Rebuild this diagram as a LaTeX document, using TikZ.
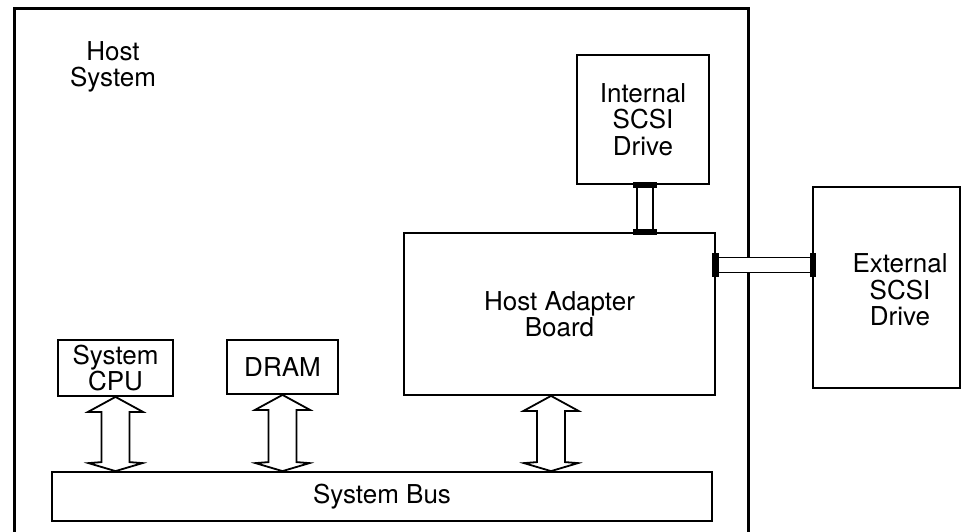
\documentclass[tikz,border=0pt]{standalone}
\usepackage{fontspec}
\setmainfont{TeX Gyre Heros}
\usetikzlibrary{calc}
\begin{document}
\begin{tikzpicture}[x=1pt,y=-1pt,
  box/.style={draw=black,line width=1.8pt,fill=white,inner sep=0pt,align=center,
    font=\fontsize{26}{26.5}\selectfont},
  txt/.style={inner sep=0pt,align=center,font=\fontsize{26}{26.5}\selectfont},
  fat/.style={draw=black,line width=1.8pt,fill=white,line join=miter},
  cable/.style={draw=black,line width=1.6pt,fill=white},
  plug/.style={fill=black,draw=none}]
\useasboundingbox (0,0) rectangle (971,531);
% host system outline
\draw[line width=3pt] (14,545) -- (14,8) -- (748,8) -- (748,545);
\node[txt] (hostlabel) at (113,67) {Host\\System};
% boxes
\node[box,minimum width=132pt,minimum height=129pt] (intdrive) at (643,119.5) {Internal\\SCSI\\Drive};
\node[box,minimum width=311pt,minimum height=162pt] (hab) at (559.5,314) {Host Adapter\\Board};
\node[box,minimum width=147pt,minimum height=201pt] (extdrive) at (886.5,287.5) {};
\node[txt] (exttext) at (900,290) {External\\SCSI\\Drive};
\node[box,minimum width=115pt,minimum height=56pt] (cpu) at (115.5,368) {System\\CPU};
\node[box,minimum width=111pt,minimum height=54pt] (dram) at (282.5,367) {DRAM};
\node[box,minimum width=660pt,minimum height=49pt] (bus) at (382,496.5) {System Bus};
% internal cable
\coordinate (ic1) at ($(intdrive.south)+(2,0)$);
\coordinate (ic2) at (ic1 |- hab.north);
\draw[cable] ($(ic1)+(-8,0)$) rectangle ($(ic2)+(8,0)$);
\fill[plug] ($(ic1)+(-12,-3)$) rectangle ($(ic1)+(12,3)$);
\fill[plug] ($(ic2)+(-12,-3)$) rectangle ($(ic2)+(12,3)$);
% external cable
\coordinate (ec1) at ($(hab.east)+(0,-49)$);
\coordinate (ec2) at (ec1 -| extdrive.west);
\draw[cable] ($(ec1)+(0,-7.5)$) rectangle ($(ec2)+(0,7.5)$);
\fill[plug] ($(ec1)+(-3.5,-12)$) rectangle ($(ec1)+(3.5,12)$);
\fill[plug] ($(ec2)+(-2.5,-12)$) rectangle ($(ec2)+(4,12)$);
% fat double arrows
\coordinate (a1t) at (cpu.south);
\coordinate (a1b) at (cpu.south |- bus.north);
\coordinate (a2t) at (dram.south);
\coordinate (a2b) at (dram.south |- bus.north);
\coordinate (a3t) at ($(hab.south)+(-8.5,0)$);
\coordinate (a3b) at (a3t |- bus.north);
\foreach \t/\b in {a1t/a1b,a2t/a2b,a3t/a3b}{
  \path[fat] let \p1=(\t), \p2=(\b) in
    (\x1,\y1) -- ({\x1+27.5pt},{\y1-15pt}) -- ({\x1+14pt},{\y1-15pt})
    -- ({\x1+14pt},{\y2+9pt}) -- ({\x1+27pt},{\y2+8pt}) -- (\x1,\y2)
    -- ({\x1-27pt},{\y2+8pt}) -- ({\x1-14pt},{\y2+9pt})
    -- ({\x1-14pt},{\y1-15pt}) -- ({\x1-27.5pt},{\y1-15pt}) -- cycle;
}
\end{tikzpicture}
\end{document}
